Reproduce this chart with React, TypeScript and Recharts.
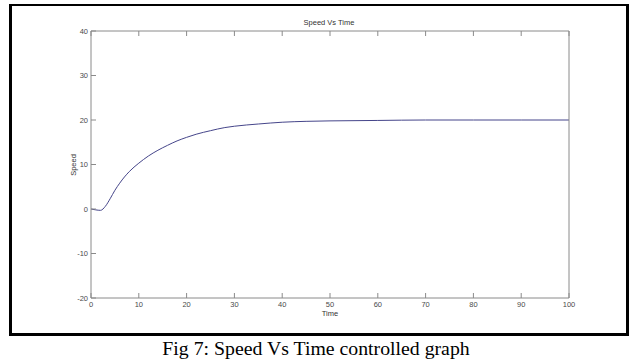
import React from 'react';
import { LineChart, Line, XAxis, YAxis } from 'recharts';

const time = [0, 1, 2, 3, 4, 5, 6, 7, 8, 10, 12, 14, 16, 18, 20, 22, 25, 28, 30, 35, 40, 45, 50, 60, 70, 80, 90, 100];
const speed = [0, -0.2, -0.3, 0.6, 2.3, 4.2, 5.8, 7.2, 8.4, 10.3, 11.9, 13.2, 14.3, 15.3, 16.1, 16.8, 17.6, 18.3, 18.6, 19.1, 19.5, 19.7, 19.8, 19.9, 20, 20, 20, 20];
const xTicks = [0, 10, 20, 30, 40, 50, 60, 70, 80, 90, 100];
const yTicks = [-20, -10, 0, 10, 20, 30, 40];

const data = time.map((t, i) => ({ t, v: speed[i] }));

const axisColor = '#8a8a8a';
const labelColor = '#4a4a4a';
const tickFont = 'Liberation Sans, Arial, sans-serif';

const BottomTick = ({ x, y, payload }: any) => (
  <g>
    <line x1={x} y1={y} x2={x} y2={y - 5} stroke={axisColor} />
    <text x={x} y={y + 9} textAnchor="middle" fontSize={7.5} fill={labelColor} fontFamily={tickFont}>
      {payload.value}
    </text>
  </g>
);

const TopTick = ({ x, y }: any) => <line x1={x} y1={y} x2={x} y2={y + 5} stroke={axisColor} />;

const LeftTick = ({ x, y, payload }: any) => (
  <g>
    <line x1={x} y1={y} x2={x + 5} y2={y} stroke={axisColor} />
    <text x={x - 3} y={y + 2.5} textAnchor="end" fontSize={7.5} fill={labelColor} fontFamily={tickFont}>
      {payload.value}
    </text>
  </g>
);

const RightTick = ({ x, y }: any) => <line x1={x} y1={y} x2={x - 5} y2={y} stroke={axisColor} />;

export default function App() {
  return (
    <div style={{ position: 'fixed', left: 0, top: 0, width: 634, height: 360, background: '#fff' }}>
      <div
        style={{
          position: 'absolute',
          left: 9,
          top: 4,
          width: 614,
          height: 327,
          borderStyle: 'solid',
          borderColor: '#000',
          borderWidth: '2px 3px 3px 3px',
        }}
      />
      <LineChart
        width={634}
        height={360}
        data={data}
        margin={{ top: 30, right: 55, bottom: 42, left: 61 }}
        style={{ position: 'absolute', left: 0, top: 0 }}
      >
        <XAxis
          xAxisId="bottom"
          type="number"
          dataKey="t"
          domain={[0, 100]}
          ticks={xTicks}
          tickSize={0}
          tickMargin={0}
          tickLine={false}
          tick={<BottomTick />}
          axisLine={{ stroke: axisColor }}
          height={20}
          interval={0}
        />
        <XAxis
          xAxisId="top"
          orientation="top"
          type="number"
          dataKey="t"
          domain={[0, 100]}
          ticks={xTicks}
          tickSize={0}
          tickMargin={0}
          tickLine={false}
          tick={<TopTick />}
          axisLine={{ stroke: axisColor }}
          height={1}
          interval={0}
        />
        <YAxis
          yAxisId="left"
          type="number"
          domain={[-20, 40]}
          ticks={yTicks}
          tickSize={0}
          tickMargin={0}
          tickLine={false}
          tick={<LeftTick />}
          axisLine={{ stroke: axisColor }}
          width={30}
          interval={0}
        />
        <YAxis
          yAxisId="right"
          orientation="right"
          type="number"
          domain={[-20, 40]}
          ticks={yTicks}
          tickSize={0}
          tickMargin={0}
          tickLine={false}
          tick={<RightTick />}
          axisLine={{ stroke: axisColor }}
          width={10}
          interval={0}
        />
        <Line
          xAxisId="bottom"
          yAxisId="left"
          type="monotone"
          dataKey="v"
          stroke="#45458a"
          strokeWidth={1}
          dot={false}
          isAnimationActive={false}
        />
      </LineChart>
      <div
        style={{
          position: 'absolute',
          left: 229,
          width: 200,
          top: 18,
          textAlign: 'center',
          fontSize: 7.5,
          color: '#333',
          fontFamily: tickFont,
          lineHeight: '10px',
        }}
      >
        Speed Vs Time
      </div>
      <div
        style={{
          position: 'absolute',
          left: 280,
          width: 100,
          top: 309,
          textAlign: 'center',
          fontSize: 7.5,
          color: '#333',
          fontFamily: tickFont,
          lineHeight: '10px',
        }}
      >
        Time
      </div>
      <div
        style={{
          position: 'absolute',
          left: 49,
          width: 50,
          top: 160,
          textAlign: 'center',
          fontSize: 7.5,
          color: '#333',
          fontFamily: tickFont,
          lineHeight: '10px',
          transform: 'rotate(-90deg)',
        }}
      >
        Speed
      </div>
      <div
        style={{
          position: 'absolute',
          left: 0,
          width: 632,
          top: 336,
          textAlign: 'center',
          fontSize: 19.8,
          color: '#000',
          fontFamily: 'Liberation Serif, Times New Roman, serif',
          lineHeight: '24px',
        }}
      >
        Fig 7: Speed Vs Time controlled graph
      </div>
    </div>
  );
}
